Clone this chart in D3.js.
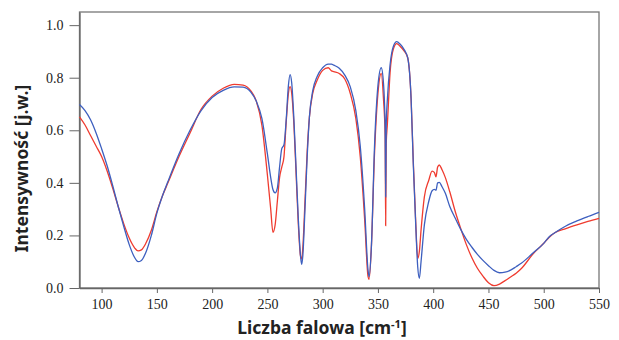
<!DOCTYPE html>
<meta charset="utf-8">
<style>
body { margin: 0; background: #fff; }
.tick text { font-family: "Liberation Serif", "Times New Roman", serif; font-size: 14px; fill: #222; }
.axis path, .axis line { stroke: #666; }
.title { font-family: "Noto Sans", "Open Sans", sans-serif; font-weight: bold; font-size: 17.5px; fill: #222; }
</style>
<svg width="619" height="340"></svg>
<script src="https://d3js.org/d3.v7.min.js"></script>
<script>

// wavenumber [cm-1]
var wavenumbers = [
  80,85,90,95,100,105,110,115,120,125,
  130,133,136,140,145,150,155,160,170,180,
  190,200,210,220,228,235,240,245,250,253,
  255,257,259,261,263,265,267,269,270.5,272,
  274,276,278,280,281,282,284,286,288,291,
  295,300,305,308,310,315,320,325,330,334,
  338,341,342,344,347,350,353,355,356.5,357,
  357.5,358.5,361,364,367,370,374,377,380,382,
  384,386,387.5,389,392,396,399,401,402.5,404,
  405.5,408,411,415,420,425,430,435,440,445,
  450,455,460,465,470,475,480,490,500,505,
  510,520,530,540,550
];

var blueValues = [
  .698,.675,.64,.59,.53,.465,.39,.31,.235,.165,
  .115,.100,.105,.135,.20,.285,.35,.405,.51,.60,
  .675,.725,.752,.765,.764,.745,.71,.645,.51,.42,
  .375,.362,.38,.46,.53,.545,.64,.77,.812,.78,
  .64,.45,.26,.12,.09,.12,.30,.50,.65,.75,
  .805,.838,.852,.852,.848,.836,.81,.765,.675,.54,
  .30,.07,.043,.15,.55,.77,.838,.78,.62,.347,
  .62,.715,.85,.92,.937,.928,.905,.875,.72,.47,
  .26,.08,.037,.10,.24,.33,.37,.375,.372,.40,
  .402,.385,.36,.31,.265,.222,.185,.155,.128,.105,
  .085,.067,.058,.06,.068,.081,.095,.132,.17,.195,
  .21,.236,.255,.272,.288
];

var redValues = [
  .651,.62,.58,.54,.50,.445,.38,.31,.245,.19,
  .152,.141,.145,.17,.22,.29,.35,.40,.50,.59,
  .68,.73,.76,.775,.772,.75,.71,.62,.43,.30,
  .212,.24,.33,.42,.46,.50,.63,.74,.766,.74,
  .62,.43,.24,.12,.11,.15,.33,.52,.65,.74,
  .79,.828,.838,.826,.823,.816,.795,.74,.645,.50,
  .26,.045,.033,.15,.52,.74,.816,.72,.58,.237,
  .55,.62,.82,.91,.93,.92,.90,.875,.72,.48,
  .27,.113,.14,.22,.347,.41,.445,.44,.423,.46,
  .468,.45,.42,.366,.29,.225,.165,.115,.075,.045,
  .02,.009,.015,.028,.042,.056,.075,.128,.17,.193,
  .21,.226,.24,.253,.265
];

var xTicks = [100,150,200,250,300,350,400,450,500,550];
var yTicks = [0,0.2,0.4,0.6,0.8,1.0];

var svg = d3.select("svg");
var plotLeft = 79.5, plotRight = 599, plotTop = 12, plotBottom = 288;

var x = d3.scaleLinear().domain([80, 550]).range([plotLeft, plotRight]);
var y = d3.scaleLinear().domain([0, 1.05]).range([plotBottom, plotTop]);

// frame
svg.append("rect")
  .attr("x", plotLeft).attr("y", plotTop)
  .attr("width", plotRight - plotLeft).attr("height", plotBottom - plotTop)
  .attr("fill", "none").attr("stroke", "#777").attr("stroke-width", 1.3);

svg.append("g")
  .attr("class", "axis")
  .attr("transform", "translate(0," + plotBottom + ")")
  .call(d3.axisBottom(x).tickValues(xTicks).tickSize(5).tickPadding(6).tickSizeOuter(0))
  .call(function(g) { g.select(".domain").attr("stroke-width", 1.3); });

svg.append("g")
  .attr("class", "axis")
  .attr("transform", "translate(" + plotLeft + ",0)")
  .call(d3.axisLeft(y).tickValues(yTicks).tickSize(10).tickPadding(6).tickSizeOuter(0)
    .tickFormat(d3.format(".1f")))
  .call(function(g) { g.select(".domain").attr("stroke-width", 1.3); });

var line = d3.line()
  .x(function(d, i) { return x(wavenumbers[i]); })
  .y(function(d) { return y(d); })
  .curve(d3.curveMonotoneX);

svg.append("path")
  .datum(redValues)
  .attr("fill", "none")
  .attr("stroke", "#ef3b2f")
  .attr("stroke-width", 1.3)
  .attr("d", line);

svg.append("path")
  .datum(blueValues)
  .attr("fill", "none")
  .attr("stroke", "#3d5fbf")
  .attr("stroke-width", 1.3)
  .attr("d", line);

// axis titles
var xt = svg.append("text")
  .attr("class", "title")
  .attr("x", 322)
  .attr("y", 334)
  .attr("font-size", 18.4)
  .attr("text-anchor", "middle");
xt.append("tspan").text("Liczba falowa [cm");
xt.append("tspan").attr("dy", -6).attr("font-size", 11).text("-1");
xt.append("tspan").attr("dy", 6).text("]");

svg.append("text")
  .attr("class", "title")
  .attr("transform", "translate(28,168.5) rotate(-90)")
  .attr("text-anchor", "middle")
  .text("Intensywność [j.w.]");

</script>
